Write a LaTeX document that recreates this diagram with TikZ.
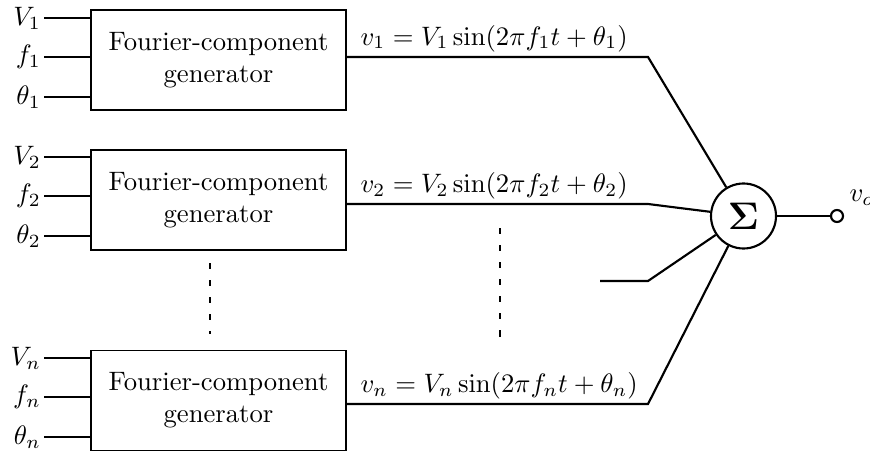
\documentclass[tikz,border=0pt]{standalone}
\begin{document}
\begin{tikzpicture}[x=0.375pt,y=-0.375pt,
  genbox/.style={draw,line width=0.5pt,minimum width=255*0.375pt,minimum height=100*0.375pt,align=center,inner sep=0pt},
  inln/.style={line width=0.5pt},
  outln/.style={line width=0.8pt},
  inlab/.style={anchor=east,inner sep=1pt},
  eqlab/.style={anchor=base west,inner sep=0pt},
  dots/.style={line width=0.5pt,dash pattern=on 2.3pt off 4.1pt}
]
\useasboundingbox (0,0) rectangle (870,453);
\clip (0,0) rectangle (870,453);

% generator boxes
\node[genbox] (g1) at (218.5,60) {Fourier-component\\generator};
\node[genbox] (g2) at (218.5,200) {Fourier-component\\generator};
\node[genbox] (g3) at (218.5,400.5) {Fourier-component\\generator};

% inputs
\foreach \b/\y/\lab in {g1/18/V_1, g1/57/f_1, g1/97/\theta_1,
                        g2/157/V_2, g2/196/f_2, g2/236/\theta_2,
                        g3/358/V_n, g3/397/f_n, g3/437/\theta_n}{
  \coordinate (in-\b-\y) at (44,\y);
  \draw[inln] (in-\b-\y) -- (\b.west |- in-\b-\y);
  \node[inlab] at (in-\b-\y) {$\lab$};
}

% summer
\node[draw,circle,line width=0.8pt,minimum size=65*0.375pt,inner sep=0pt] (sum) at (743.5,216) {\Large$\mathbf{\Sigma}$};

% bends
\coordinate (b1) at (648,57);
\coordinate (b2) at (648,204);
\coordinate (b3) at (648,281);
\coordinate (b4) at (648,404);
\coordinate (s3) at (600,281);

\draw[outln] (g1.east |- b1) -- (b1) -- (sum);
\draw[outln] (g2.east |- b2) -- (b2) -- (sum);
\draw[outln] (s3) -- (b3) -- (sum);
\draw[outln] (g3.east |- b4) -- (b4) -- (sum);

% output
\node[draw,circle,line width=0.8pt,minimum size=12*0.375pt,inner sep=0pt] (out) at (837,216) {};
\draw[outln] (sum) -- (out);
\node[anchor=base west,inner sep=0pt] (vo) at (849,201) {$v_o$};

% equations
\node[eqlab] (e1) at (360,45) {$v_1 = V_1\sin(2\pi f_1 t+\theta_1)$};
\node[eqlab] (e2) at (360,192) {$v_2 = V_2\sin(2\pi f_2 t+\theta_2)$};
\node[eqlab] (e3) at (360,392) {$v_n = V_n\sin(2\pi f_n t+\theta_n)$};

% dashed continuation
\coordinate (d1a) at (210,263);
\coordinate (d1b) at (210,334);
\coordinate (d2a) at (500,228);
\coordinate (d2b) at (500,346);
\draw[dots] (d1a) -- (d1b);
\draw[dots] (d2a) -- (d2b);
\end{tikzpicture}
\end{document}
